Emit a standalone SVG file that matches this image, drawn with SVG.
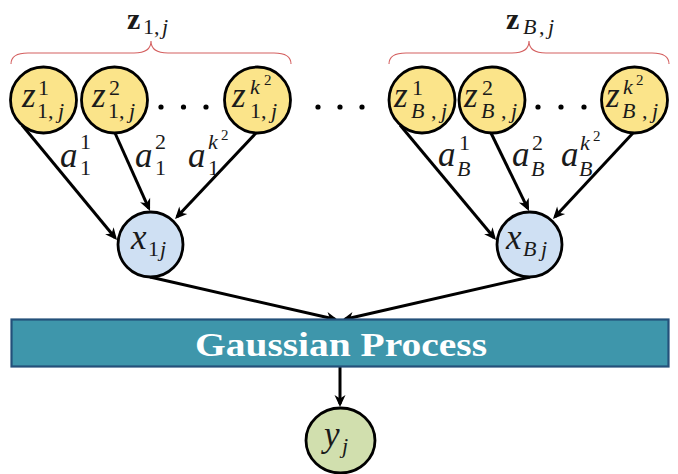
<svg xmlns="http://www.w3.org/2000/svg" width="678" height="474" viewBox="0 0 678 474">
<defs>
<marker id="ah" markerUnits="userSpaceOnUse" markerWidth="14" markerHeight="12" refX="9" refY="6" orient="auto" overflow="visible">
<path d="M0,0.5 L12,6 L0,11.5 L3.5,6 z" fill="#000"/>
</marker>
<style>
.zn{fill:#fbe48a;stroke:#000;stroke-width:2.8}
.xn{fill:#cfe0f3;stroke:#000;stroke-width:2.8}
.yn{fill:#d1dfae;stroke:#000;stroke-width:2.8}
.e{fill:none;stroke:#000;stroke-width:3;marker-end:url(#ah)}
.br{fill:none;stroke:#d46060;stroke-width:1.1}
text{font-family:'Liberation Serif','Times New Roman',serif;fill:#1a1a1a}
.m{font-style:italic;font-size:35px}
.s{font-size:22px}
.si{font-style:italic;font-size:22px}
.ss{font-size:15px}
.b{font-weight:bold;font-size:30px}
.dot{fill:#000}
</style>
</defs>
<g id="braces">
<path class="br" d="M11,64 Q11,53 28,53 L134,53 Q151,53 151,41 Q151,53 168,53 L274,53 Q291,53 291,64"/>
<path class="br" d="M389,64 Q389,53 406,53 L512,53 Q529,53 529,41 Q529,53 546,53 L652,53 Q669,53 669,64"/>
<text class="b" x="127" y="29">z</text><text class="s" x="143" y="34">1,</text><text class="si" x="162" y="34">j</text>
<text class="b" x="506" y="29">z</text><text class="si" x="523" y="34">B</text><text class="s" x="539" y="34">,</text><text class="si" x="548" y="34">j</text>
</g>
<g id="connectors">
<path class="e" d="M22,125 L115.1,237.7"/>
<path class="e" d="M115,133 L148.8,208.3"/>
<path class="e" d="M256,133 L177.1,216.8"/>
<path class="e" d="M400,125 L494.1,237.7"/>
<path class="e" d="M491,133 L527.7,208.3"/>
<path class="e" d="M633,133 L555,216.8"/>
<path class="e" d="M150,277 L335.1,319.3"/>
<path class="e" d="M530,277 L344.9,319.3"/>
<path class="e" d="M340,367 L340,404"/>
</g>
<g id="edge-labels">
<text class="m" x="60" y="167">a</text><text class="s" x="80" y="149">1</text><text class="s" x="80" y="175">1</text>
<text class="m" x="135" y="167">a</text><text class="s" x="155" y="149">2</text><text class="s" x="155" y="175">1</text>
<text class="m" x="188" y="167">a</text><text class="si" x="208" y="149">k</text><text class="ss" x="221" y="140">2</text><text class="s" x="208" y="175">1</text>
<text class="m" x="438" y="166">a</text><text class="s" x="459" y="150">1</text><text class="si" x="457" y="176">B</text>
<text class="m" x="512" y="166">a</text><text class="s" x="532" y="150">2</text><text class="si" x="531" y="176">B</text>
<text class="m" x="561" y="166">a</text><text class="si" x="580" y="150">k</text><text class="ss" x="593" y="141">2</text><text class="si" x="579" y="176">B</text>
</g>
<g id="z11">
<circle class="zn" cx="43.5" cy="100" r="33"/>
<text class="m" x="22" y="107">z</text><text class="s" x="38" y="95">1</text><text class="s" x="37" y="118">1,</text><text class="si" x="58" y="118">j</text>
</g>
<g id="z12">
<circle class="zn" cx="114.5" cy="100" r="33"/>
<text class="m" x="92" y="107">z</text><text class="s" x="109" y="95">2</text><text class="s" x="108" y="118">1,</text><text class="si" x="129" y="118">j</text>
</g>
<g id="dots1">
<circle class="dot" cx="161" cy="107" r="2.6"/><circle class="dot" cx="183.5" cy="107" r="2.6"/><circle class="dot" cx="206" cy="107" r="2.6"/>
</g>
<g id="z1k">
<circle class="zn" cx="257.5" cy="100" r="33"/>
<text class="m" x="232" y="107">z</text><text class="si" x="250" y="94">k</text><text class="ss" x="264" y="85">2</text><text class="s" x="250" y="118">1,</text><text class="si" x="271" y="118">j</text>
</g>
<g id="dots-mid">
<circle class="dot" cx="318" cy="107" r="2.6"/><circle class="dot" cx="340" cy="107" r="2.6"/><circle class="dot" cx="362" cy="107" r="2.6"/>
</g>
<g id="zB1">
<circle class="zn" cx="422" cy="100" r="33"/>
<text class="m" x="394" y="107">z</text><text class="s" x="412" y="95">1</text><text class="si" x="411" y="118">B</text><text class="s" x="431" y="118">,</text><text class="si" x="441" y="118">j</text>
</g>
<g id="zB2">
<circle class="zn" cx="492" cy="100" r="33"/>
<text class="m" x="464" y="107">z</text><text class="s" x="482" y="95">2</text><text class="si" x="481" y="118">B</text><text class="s" x="501" y="118">,</text><text class="si" x="511" y="118">j</text>
</g>
<g id="dots2">
<circle class="dot" cx="538" cy="107" r="2.6"/><circle class="dot" cx="561" cy="107" r="2.6"/><circle class="dot" cx="584" cy="107" r="2.6"/>
</g>
<g id="zBk">
<circle class="zn" cx="634.5" cy="100" r="33"/>
<text class="m" x="606" y="107">z</text><text class="si" x="623" y="94">k</text><text class="ss" x="636" y="85">2</text><text class="si" x="622" y="118">B</text><text class="s" x="642" y="118">,</text><text class="si" x="652" y="118">j</text>
</g>
<g id="x1">
<circle class="xn" cx="150.5" cy="244.5" r="32.5"/>
<text class="m" x="131" y="249">x</text><text class="s" x="148" y="256">1</text><text class="si" x="160" y="256">j</text>
</g>
<g id="xB">
<circle class="xn" cx="529.5" cy="244.5" r="32.5"/>
<text class="m" x="506" y="249">x</text><text class="si" x="523" y="256">B</text><text class="si" x="541" y="256">j</text>
</g>
<g id="gp">
<rect x="11.5" y="319.5" width="657" height="47" fill="#3e96ab" stroke="#24507a" stroke-width="2.2"/>
<text x="341" y="356" text-anchor="middle" textLength="292" lengthAdjust="spacingAndGlyphs" font-weight="bold" font-size="33" style="fill:#fff">Gaussian Process</text>
</g>
<g id="y">
<ellipse class="yn" cx="340.5" cy="440.5" rx="34.5" ry="32.5"/>
<text class="m" x="324" y="446">y</text><text class="si" x="342" y="453">j</text>
</g>
</svg>
